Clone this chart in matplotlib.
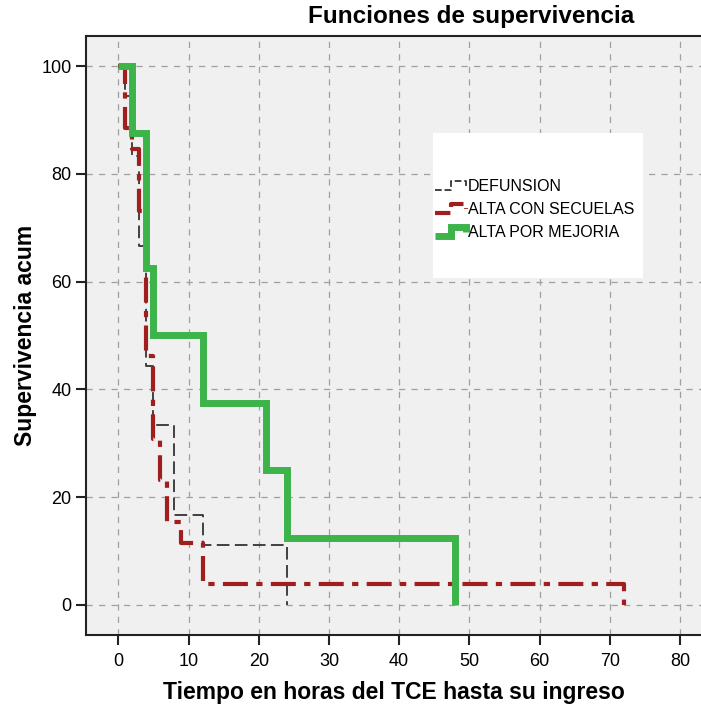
import matplotlib
matplotlib.use("Agg")
import matplotlib.pyplot as plt
from matplotlib.legend_handler import HandlerBase
from matplotlib.lines import Line2D
from matplotlib.patches import Rectangle

# Kaplan-Meier style survival steps (percent)
defuncion_t = [0, 1, 2, 3, 4, 5, 8, 12, 24]
defuncion_s = [100, 94.4, 83.3, 66.7, 44.4, 33.3, 16.7, 11.1, 0]

secuelas_t = [0, 1, 2, 3, 4, 5, 6, 7, 9, 12, 72]
secuelas_s = [100, 88.5, 84.6, 73.1, 46.2, 30.8, 23.1, 15.4, 11.5, 3.8, 0]

mejoria_t = [0, 2, 4, 5, 12, 21, 24, 48]
mejoria_s = [100, 87.5, 62.5, 50, 37.5, 25, 12.5, 0]

labels = ["DEFUNSION", "ALTA CON SECUELAS", "ALTA POR MEJORIA"]
x_ticks = [0, 10, 20, 30, 40, 50, 60, 70, 80]
y_ticks = [0, 20, 40, 60, 80, 100]

plt.rcParams["font.family"] = ["Liberation Sans", "DejaVu Sans"]


class StepHandler(HandlerBase):
    def create_artists(self, legend, orig, xdescent, ydescent, width, height, fontsize, trans):
        x0, w = -xdescent, width
        lo, hi = -ydescent + 0.05 * height, -ydescent + 0.85 * height
        xs = [x0, x0 + 0.5 * w, x0 + 0.5 * w, x0 + 0.97 * w, x0 + 0.97 * w]
        ys = [lo, lo, hi, hi, 0.45 * (lo + hi)]
        line = Line2D(xs, ys, color=orig.get_color(), linewidth=orig.get_linewidth(),
                      linestyle=orig.get_linestyle(), solid_joinstyle="miter",
                      solid_capstyle="butt")
        line.set_transform(trans)
        return [line]


fig = plt.figure(figsize=(7.01, 7.08), dpi=100)
ax = fig.add_axes([86 / 701, 73 / 708, 615 / 701, 599 / 708])
ax.set_facecolor("#f0f0f0")

l1, = ax.plot(defuncion_t, defuncion_s, drawstyle="steps-post", color="#333333",
              linewidth=1.3, dashes=(7, 3), label=labels[0])
l2, = ax.plot(secuelas_t, secuelas_s, drawstyle="steps-post", color="#a01e1e",
              linewidth=3.0, dashes=(6, 2, 1.5, 2), label=labels[1])
l3, = ax.plot(mejoria_t, mejoria_s, drawstyle="steps-post", color="#3cb44a",
              linewidth=5.0, label=labels[2], solid_joinstyle="miter",
              solid_capstyle="butt")

ax.set_xlim(-4.6, 83.0)
ax.set_ylim(-5.6, 105.6)
ax.set_xticks(x_ticks)
ax.set_yticks(y_ticks)
ax.tick_params(axis="both", length=7, width=1.5, labelsize=13, color="#222222")
ax.tick_params(axis="x", pad=6)
ax.grid(True, color="#a0a0a0", linestyle=(0, (5, 5)), linewidth=0.9)
ax.set_axisbelow(True)
for side in ("left", "bottom", "top"):
    ax.spines[side].set_linewidth(1.5)
    ax.spines[side].set_color("#222222")
ax.spines["right"].set_visible(False)

ax.add_patch(Rectangle((0.564, 0.596), 0.342, 0.242, transform=ax.transAxes,
                       facecolor="white", edgecolor="none", zorder=3))
leg = ax.legend(handles=[l1, l2, l3], loc="upper left", bbox_to_anchor=(0.568, 0.762),
                frameon=False, fontsize=11.5, handlelength=2.0, handletextpad=0.05,
                labelspacing=0.5, borderpad=0, borderaxespad=0,
                handler_map={Line2D: StepHandler()})
leg.set_zorder(4)

ax.set_xlabel("Tiempo en horas del TCE hasta su ingreso", fontsize=16.5, fontweight="bold", labelpad=8)
ax.set_ylabel("Supervivencia acum", fontsize=16.5, fontweight="bold", labelpad=3)
fig.text(471 / 701, 1 - 16 / 708, "Funciones de supervivencia", fontsize=17.5,
         fontweight="bold", ha="center", va="center")

fig.savefig("out.png", dpi=100)
